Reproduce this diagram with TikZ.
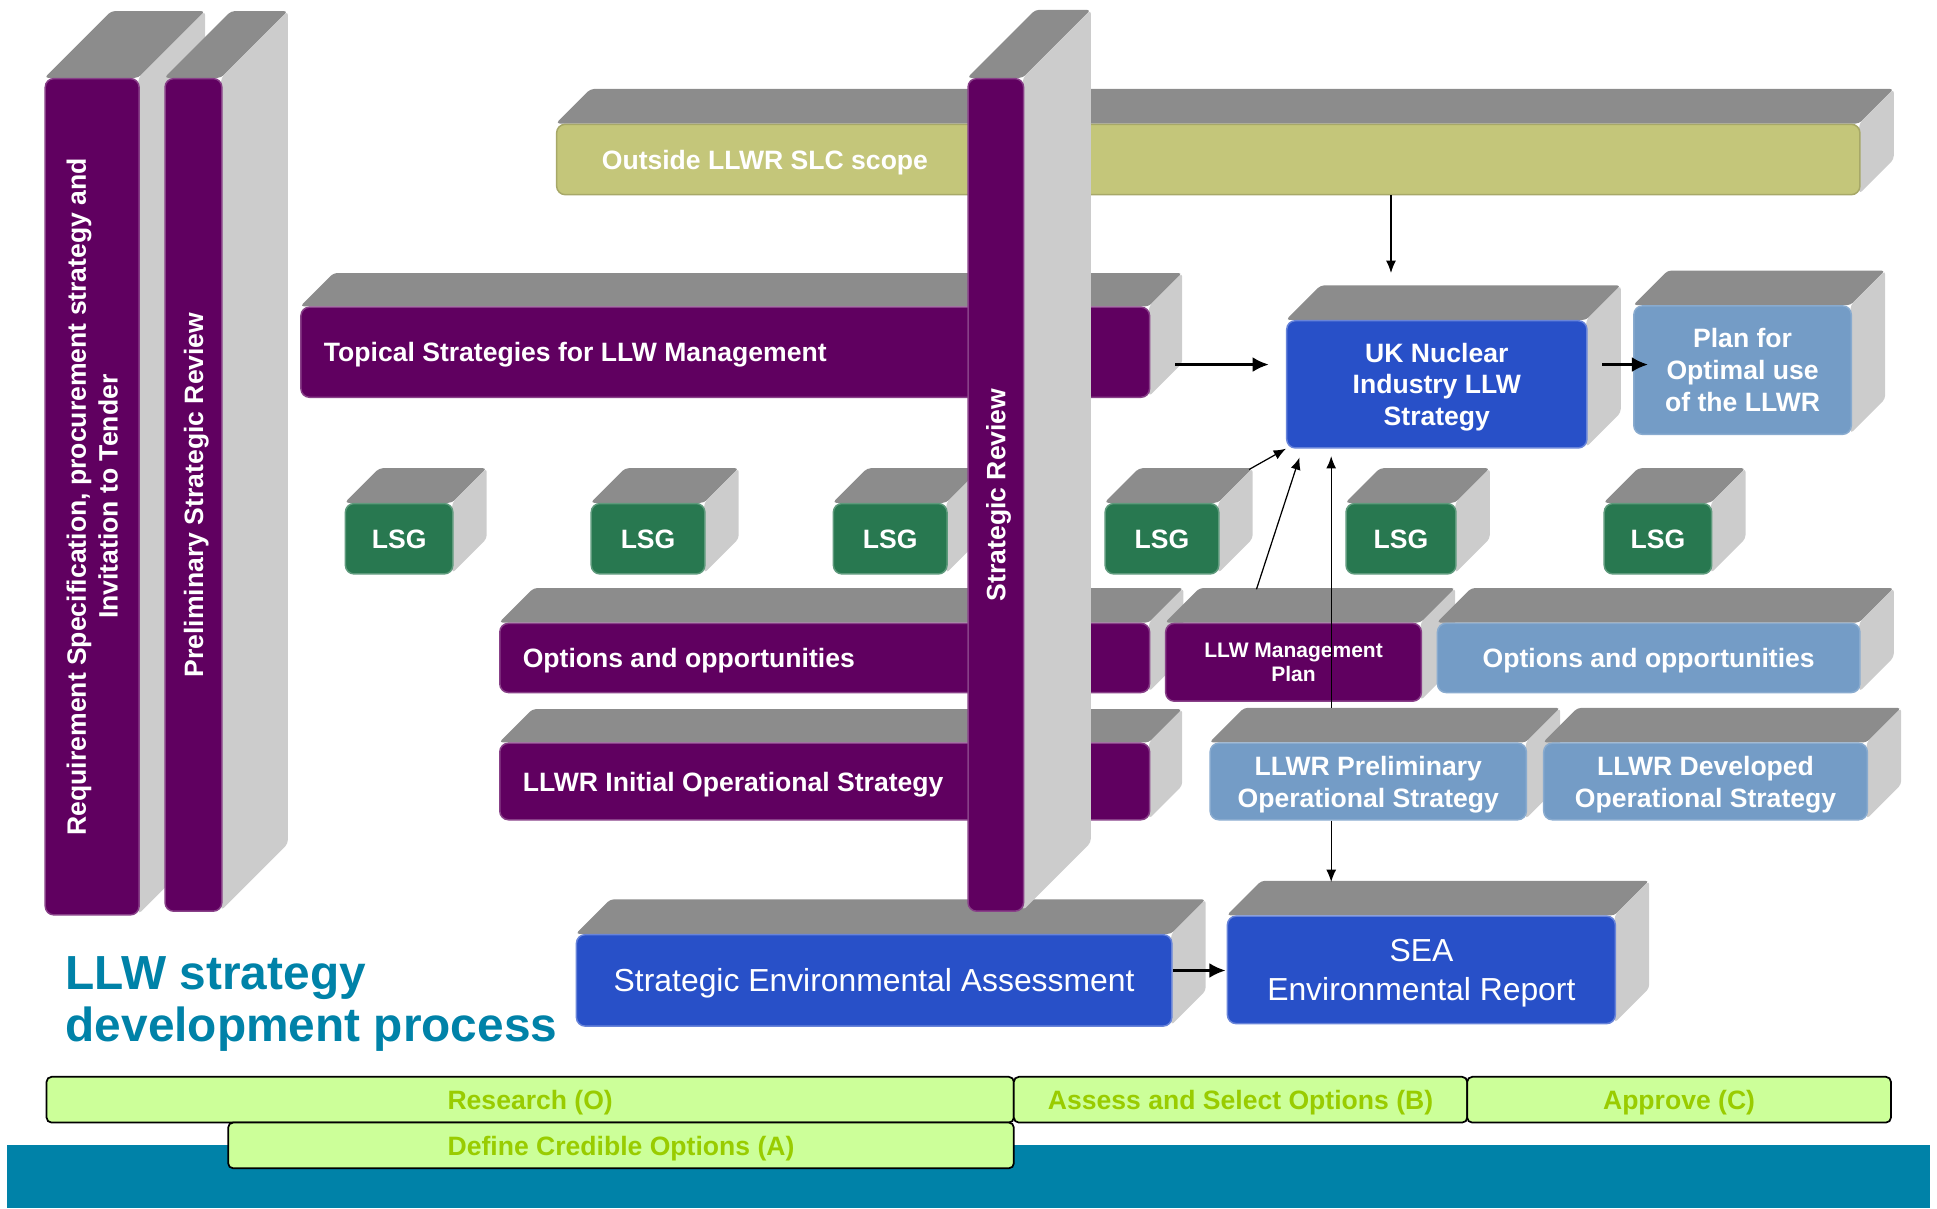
\documentclass[tikz,border=0pt]{standalone}
\usepackage{fontspec}
\setmainfont{Liberation Sans}
\usetikzlibrary{arrows.meta}

\definecolor{cpurp}{RGB}{96,0,96}
\definecolor{colive}{RGB}{196,198,122}
\definecolor{cgreen}{RGB}{40,120,80}
\definecolor{cblue}{RGB}{40,80,200}
\definecolor{csky}{RGB}{116,156,198}
\definecolor{ctop}{RGB}{140,140,140}
\definecolor{cside}{RGB}{204,204,204}
\definecolor{cteal}{RGB}{0,130,168}
\definecolor{cphase}{RGB}{204,255,153}
\definecolor{cphtext}{RGB}{153,204,0}

% 3d slab: name, face style, x1, y1, x2, y2, depth, text
\newcommand{\slab}[8]{%
  \fill[topface] (#3,#4) -- (#3+#7,#4-#7) -- (#5+#7,#4-#7) -- (#5,#4) -- cycle;
  \fill[sideface] (#5,#4) -- (#5+#7,#4-#7) -- (#5+#7,#6-#7) -- (#5,#6) -- cycle;
  \node[front, #2, minimum width=#5-#3, minimum height=#6-#4, anchor=north west] (#1) at (#3,#4) {#8};
}

\begin{document}
\begin{tikzpicture}[x=1pt, y=-1pt]
	\tikzset{front/.style={rounded corners=7pt, inner sep=2pt, line width=1.2pt, text=white, align=center,
			text depth=0pt, font=\fontsize{21.5}{25.8}\selectfont\bfseries},
		lbl/.style={inner sep=2pt, text=white, align=center, text depth=0pt,
			font=\fontsize{21.5}{25.8}\selectfont\bfseries},
		topface/.style={fill=ctop, rounded corners=3pt},
		sideface/.style={fill=cside, rounded corners=3pt},
		pu/.style={fill=cpurp, draw=cpurp!75!white},
		ol/.style={fill=colive, draw=colive!85!black},
		gr/.style={fill=cgreen, draw=cgreen!75!white},
		bl/.style={fill=cblue, draw=cblue!70!white},
		sk/.style={fill=csky, draw=csky!85!white},
		phase/.style={fill=cphase, draw=black, line width=1.4pt, rounded corners=4pt, anchor=north west,
			text=cphtext, text depth=0pt, font=\fontsize{21.5}{25.8}\selectfont\bfseries},
		f/.style={-{Latex[length=10pt, width=8pt]}, line width=1pt},
		ff/.style={-{Latex[length=13pt, width=12pt]}, line width=1.8pt}};

	\useasboundingbox (0,0) rectangle (1568,978);

	% bottom band and phases
	\fill[cteal] (6,927) rectangle (1562,978);
	\node[phase, minimum width=783, minimum height=37] (research) at (37,871) {Research (O)};
	\node[phase, minimum width=367, minimum height=37] (assess) at (820,871) {Assess and Select Options (B)};
	\node[phase, minimum width=343, minimum height=37] (approve) at (1187,871) {Approve (C)};
	\node[phase, minimum width=636, minimum height=37] (define) at (184,908) {Define Credible Options (A)};

	\node[anchor=north west, align=left, inner sep=0pt, text=cteal,
		font=\fontsize{38.7}{42}\selectfont\bfseries] (title) at (53,774) {LLW strategy\\development process};

	% left columns
	\slab{reqcol}{pu}{36}{63}{112}{740}{54}{}
	\node[lbl, rotate=90] (reqcol-t) at (reqcol.center) {Requirement Specification, procurement strategy and\\Invitation to Tender};
	\slab{prelcol}{pu}{133}{63}{179}{737}{54}{}
	\node[lbl, rotate=90] (prelcol-t) at (prelcol.center) {Preliminary Strategic Review};

	% bars behind the strategic review
	\slab{outside}{ol}{450}{100}{1505}{157}{28}{}
	\node[lbl, anchor=west] (outside-t) at ([xshift=35pt]outside.west) {Outside LLWR SLC scope};
	\slab{topical}{pu}{243}{248}{930}{321}{27}{}
	\node[lbl, anchor=west] (topical-t) at ([xshift=17pt]topical.west) {Topical Strategies for LLW Management};
	\slab{lsg1}{gr}{279}{407}{366}{464}{28}{LSG}
	\slab{lsg2}{gr}{478}{407}{570}{464}{28}{LSG}
	\slab{lsg3}{gr}{674}{407}{766}{464}{28}{LSG}
	\slab{optl}{pu}{404}{504}{930}{560}{28}{}
	\node[lbl, anchor=west] (optl-t) at ([xshift=17pt]optl.west) {Options and opportunities};
	\slab{initial}{pu}{404}{601}{930}{663}{27}{}
	\node[lbl, anchor=west] (initial-t) at ([xshift=17pt]initial.west) {LLWR Initial Operational Strategy};
	\slab{sea}{bl, font=\fontsize{25.8}{31}\selectfont}{466}{756}{948}{830}{28}{Strategic Environmental Assessment}

	\slab{srcol}{pu}{783}{63}{828}{737}{55}{}
	\node[lbl, rotate=90] (srcol-t) at (srcol.center) {Strategic Review};

	% right hand side
	\slab{lsg4}{gr}{894}{407}{986}{464}{28}{LSG}
	\slab{lsg5}{gr}{1089}{407}{1178}{464}{28}{LSG}
	\slab{lsg6}{gr}{1298}{407}{1385}{464}{28}{LSG}
	\slab{ukn}{bl}{1041}{259}{1284}{362}{28}{UK Nuclear\\Industry LLW\\Strategy}
	\slab{plan}{sk}{1322}{247}{1498}{351}{28}{Plan for\\Optimal use\\of the LLWR}
	\slab{mgmt}{pu, font=\fontsize{17}{20}\selectfont\bfseries}{943}{504}{1150}{567}{28}{LLW Management\\Plan}
	\slab{optr}{sk}{1163}{504}{1505}{560}{28}{Options and opportunities}
	\slab{prelim}{sk}{979}{601}{1235}{663}{28}{LLWR Preliminary\\Operational Strategy}
	\slab{devel}{sk}{1249}{601}{1511}{663}{28}{LLWR Developed\\Operational Strategy}
	\slab{seaer}{bl, font=\fontsize{25.8}{31}\selectfont}{993}{741}{1307}{828}{28}{SEA\\Environmental Report}

	% connectors
	\coordinate (ukin) at (1126,221);
	\coordinate (row) at ([xshift=20pt, yshift=-10pt]topical.east);
	\coordinate (pcol) at ([xshift=-30pt]prelim.north);

	\draw[f] (outside.south -| ukin) -- (ukin);
	\draw[ff, shorten >=14pt] (row) -- (row -| ukn.west);
	\draw[ff, shorten <=12pt, shorten >=-12pt] (ukn.east |- row) -- (row -| plan.west);
	\draw[f] ([xshift=24pt, yshift=27pt]lsg4.north east) -- (ukn.south west);
	\draw[f] ([xshift=-30pt, yshift=27pt]mgmt.north) -- ([xshift=11pt, yshift=-7pt]ukn.south west);
	\draw[f, shorten >=6pt] ([yshift=28pt]pcol) -- (pcol |- ukn.south);
	\draw[f] (prelim.south -| pcol) -- ([yshift=27pt]seaer.north -| pcol);
	\draw[ff, shorten >=1pt] ([yshift=8pt]sea.east) -- ([yshift=8pt]sea.east -| seaer.west);
\end{tikzpicture}
\end{document}
